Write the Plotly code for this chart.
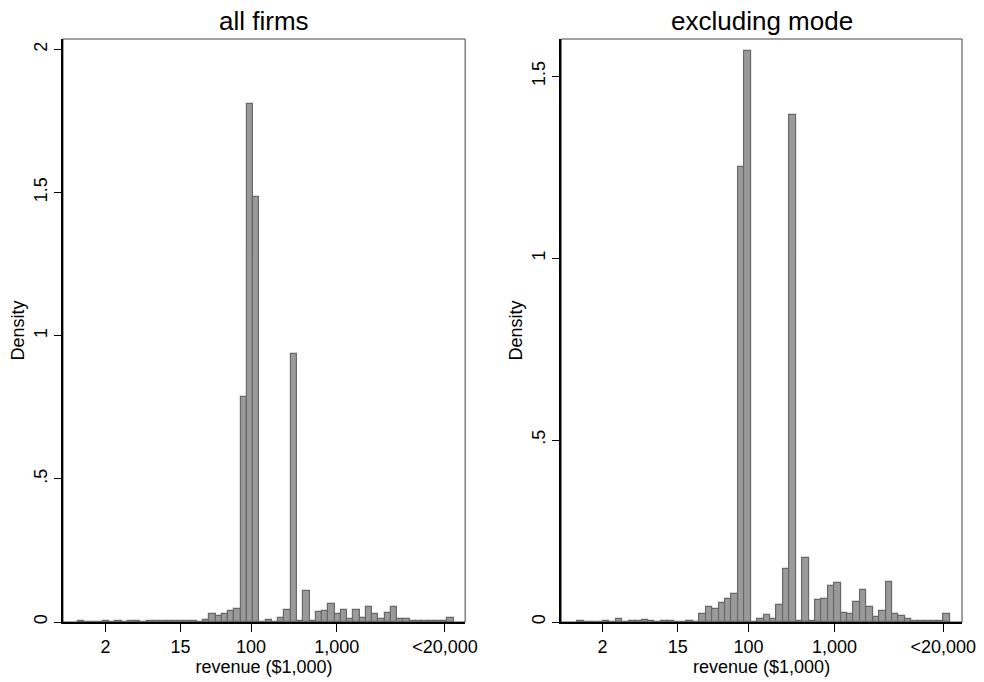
import numpy as np
import plotly.graph_objects as go

# ---------------- data ----------------
panel_titles = ["all firms", "excluding mode"]
x_title = "revenue ($1,000)"
y_title = "Density"

# histogram bins are equal-width in log10(revenue, $1,000)
left_bin_start = -0.021      # log10 of first bin's lower edge
left_bin_width = 0.07305
right_bin_start = 0.0116
right_bin_width = 0.07465

left_density = [
    0.003, 0, 0, 0, 0.003, 0, 0.003, 0, 0.002, 0.002,
    0, 0.002, 0.002, 0.002, 0.002, 0.002, 0.002, 0.002, 0.002, 0,
    0.006, 0.027, 0.022, 0.029, 0.040, 0.047, 0.787, 1.81, 1.483, 0,
    0.008, 0, 0.015, 0.043, 0.936, 0.002, 0.109, 0.002, 0.036, 0.039,
    0.062, 0.028, 0.042, 0.009, 0.042, 0.013, 0.053, 0.027, 0.009, 0.030,
    0.053, 0.009, 0.009, 0.002, 0.002, 0.002, 0.002, 0.002, 0.002, 0.013,
]

right_density = [
    0.003, 0, 0, 0, 0.003, 0, 0.007, 0, 0.003, 0.003,
    0.005, 0.003, 0, 0.003, 0.003, 0, 0, 0.003, 0, 0.021,
    0.042, 0.035, 0.051, 0.062, 0.078, 1.249, 1.57, 0, 0.007, 0.018,
    0.007, 0.046, 0.147, 1.393, 0.002, 0.177, 0.002, 0.060, 0.064, 0.099,
    0.108, 0.026, 0.022, 0.055, 0.089, 0.041, 0.014, 0.030, 0.110, 0.023,
    0.016, 0.007, 0.002, 0.002, 0.002, 0.002, 0.002, 0.021,
]

x_tick_values = [2, 15, 100, 1000, 18280]     # revenue ($1,000)
x_tick_labels = ["2", "15", "100", "1,000", "<20,000"]
left_y_ticks = [0, 0.5, 1, 1.5, 2]
left_y_labels = ["0", ".5", "1", "1.5", "2"]
right_y_ticks = [0, 0.5, 1, 1.5]
right_y_labels = ["0", ".5", "1", "1.5"]

# ---------------- figure ----------------
FONT = "Liberation Sans, Arial, Helvetica, sans-serif"
BAR_FILL = "#9a9a9a"
BAR_LINE = "#686868"


def centers(start, width, n):
    return start + width * (np.arange(n) + 0.5)


fig = go.Figure()
fig.add_trace(go.Bar(
    x=centers(left_bin_start, left_bin_width, len(left_density)),
    y=left_density, width=left_bin_width,
    marker=dict(color=BAR_FILL, line=dict(color=BAR_LINE, width=1.2)),
    xaxis="x", yaxis="y", showlegend=False, hoverinfo="x+y"))
fig.add_trace(go.Bar(
    x=centers(right_bin_start, right_bin_width, len(right_density)),
    y=right_density, width=right_bin_width,
    marker=dict(color=BAR_FILL, line=dict(color=BAR_LINE, width=1.2)),
    xaxis="x2", yaxis="y2", showlegend=False, hoverinfo="x+y"))

W, H = 984, 682
ML, MR, MT, MB = 63, 22.3, 38.5, 60
PW = W - ML - MR
PH = H - MT - MB
left_dom = [0, (465 - ML) / PW]
right_dom = [(561 - ML) / PW, 1]
y_dom = [0, 1]

xcommon = dict(
    tickvals=list(np.log10(x_tick_values)), ticktext=x_tick_labels,
    ticks="outside", ticklen=8, tickwidth=1.3, tickcolor="black",
    showline=True, linecolor="black", linewidth=1.5,
    showgrid=False, zeroline=False, automargin=False,
    tickfont=dict(family=FONT, size=18, color="black"),
    title=dict(text=x_title, font=dict(family=FONT, size=18, color="black"), standoff=0),
)
ycommon = dict(
    ticks="outside", ticklen=7, tickwidth=1.3, tickcolor="black",
    showline=True, linecolor="black", linewidth=1.5,
    showgrid=False, zeroline=False, tickangle=-90, automargin=False,
    ticklabelstandoff=0,
    tickfont=dict(family=FONT, size=18, color="black"),
    title=dict(text=y_title, font=dict(family=FONT, size=18, color="black"), standoff=2),
    domain=y_dom,
)

title_y = (H - MB - 20) / PH   # 20 px from the top of the figure
fig.update_layout(
    width=W, height=H,
    margin=dict(l=ML, r=MR, t=MT, b=MB, autoexpand=False),
    paper_bgcolor="white", plot_bgcolor="white",
    bargap=0, barmode="overlay",
    font=dict(family=FONT, color="black"),
    xaxis=dict(domain=left_dom, range=[-0.194, 4.497], anchor="y", **xcommon),
    xaxis2=dict(domain=right_dom, range=[-0.178, 4.481], anchor="y2", **xcommon),
    yaxis=dict(anchor="x", range=[0, 2.036], tickvals=left_y_ticks,
               ticktext=left_y_labels, **ycommon),
    yaxis2=dict(anchor="x2", range=[0, 1.602], tickvals=right_y_ticks,
                ticktext=right_y_labels, **ycommon),
    shapes=[
        dict(type="rect", xref="x domain", yref="y domain", x0=0, x1=1, y0=0, y1=1,
             line=dict(color="#444444", width=1), layer="below"),
        dict(type="rect", xref="x2 domain", yref="y2 domain", x0=0, x1=1, y0=0, y1=1,
             line=dict(color="#444444", width=1), layer="below"),
    ],
    annotations=[
        dict(text=panel_titles[0], x=sum(left_dom) / 2, y=title_y,
             xref="paper", yref="paper", showarrow=False, xanchor="center",
             yanchor="middle", font=dict(family=FONT, size=26, color="black")),
        dict(text=panel_titles[1], x=sum(right_dom) / 2, y=title_y,
             xref="paper", yref="paper", showarrow=False, xanchor="center",
             yanchor="middle", font=dict(family=FONT, size=26, color="black")),
    ],
)

fig.write_html(
    "out.html",
    config={"displayModeBar": False},
    post_script="document.body.style.margin='0';document.body.style.overflow='hidden';",
)
